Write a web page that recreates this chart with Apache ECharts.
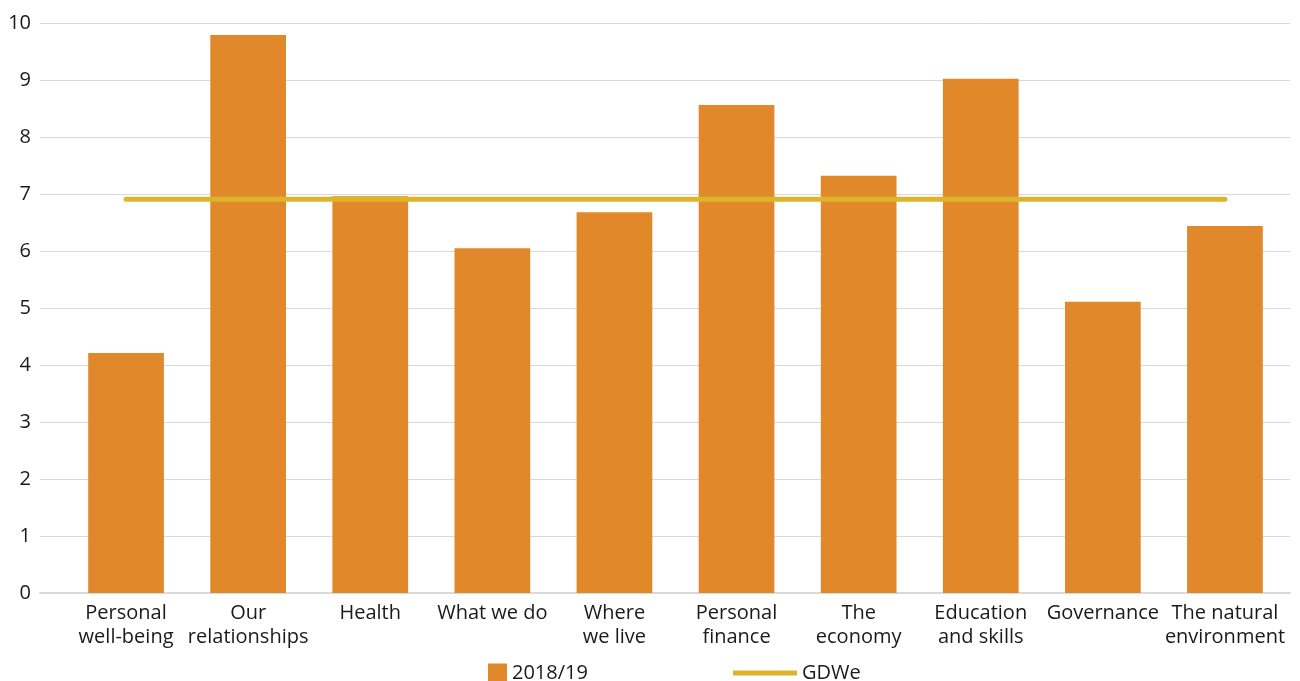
<!DOCTYPE html>
<html><head><meta charset="utf-8">
<script src="https://cdn.jsdelivr.net/npm/echarts@6/dist/echarts.min.js"></script>
<style>html,body{margin:0;padding:0;background:#fff}#c{width:1300px;height:681px}</style>
</head><body><div id="c"></div>
<script>
const categories = ["Personal\nwell-being","Our\nrelationships","Health","What we do","Where\nwe live","Personal\nfinance","The\neconomy","Education\nand skills","Governance","The natural\nenvironment"];
const values2018 = [4.21, 9.79, 6.96, 6.05, 6.68, 8.56, 7.32, 9.02, 5.11, 6.44];
const gdweValues = [6.91, 6.91, 6.91, 6.91, 6.91, 6.91, 6.91, 6.91, 6.91, 6.91];
const yTicks = {min: 0, max: 10, interval: 1};

const chart = echarts.init(document.getElementById('c'));
const font = "'Open Sans', 'Noto Sans', sans-serif";
const txt = '#1a1a1a';
chart.setOption({
  animation: false,
  textStyle: {fontFamily: font},
  grid: [
    {left: 65, right: 14, top: 23, bottom: 88, containLabel: false},
    {left: 40, right: 10, top: 23, bottom: 88, containLabel: false}
  ],
  legend: [
    {data: [{name: '2018/19', icon: 'rect'}], left: 488, top: 663, padding: 0, itemWidth: 19, itemHeight: 19, itemGap: 6,
     textStyle: {fontSize: 20, color: txt, fontFamily: font}},
    {data: [{name: 'GDWe', icon: 'rect'}], left: 733, top: 663, padding: 0, itemWidth: 64, itemHeight: 5,
     textStyle: {fontSize: 20, color: txt, fontFamily: font}}
  ],
  xAxis: [
    {type: 'category', data: categories, gridIndex: 0,
     axisLine: {show: false}, axisTick: {show: false},
     axisLabel: {color: txt, fontSize: 20, lineHeight: 24, margin: 8, interval: 0, fontFamily: font}},
    {type: 'value', gridIndex: 1, show: true, min: 0, max: 1,
     axisLine: {show: true, onZero: false, lineStyle: {color: '#d9d9d9', width: 2}},
     axisTick: {show: false}, axisLabel: {show: false}, splitLine: {show: false}}
  ],
  yAxis: [
    {type: 'value', gridIndex: 0, min: yTicks.min, max: yTicks.max, interval: yTicks.interval,
     axisLine: {show: false}, axisTick: {show: false}, axisLabel: {show: false}, splitLine: {show: false}},
    {type: 'value', gridIndex: 1, min: yTicks.min, max: yTicks.max, interval: yTicks.interval,
     axisLine: {show: false}, axisTick: {show: false},
     axisLabel: {color: txt, fontSize: 20, margin: 9, fontFamily: font},
     splitLine: {lineStyle: {color: '#d9d9d9', width: 1}}}
  ],
  series: [
    {name: '2018/19', type: 'bar', data: values2018, barWidth: '62%', xAxisIndex: 0, yAxisIndex: 0, z: 3,
     itemStyle: {color: '#E0882A'}},
    {name: 'GDWe', type: 'line', data: gdweValues, symbol: 'none', xAxisIndex: 0, yAxisIndex: 0, z: 4,
     lineStyle: {color: '#DEB42B', width: 5, cap: 'round'}, itemStyle: {color: '#DEB42B'}}
  ]
});
</script></body></html>
